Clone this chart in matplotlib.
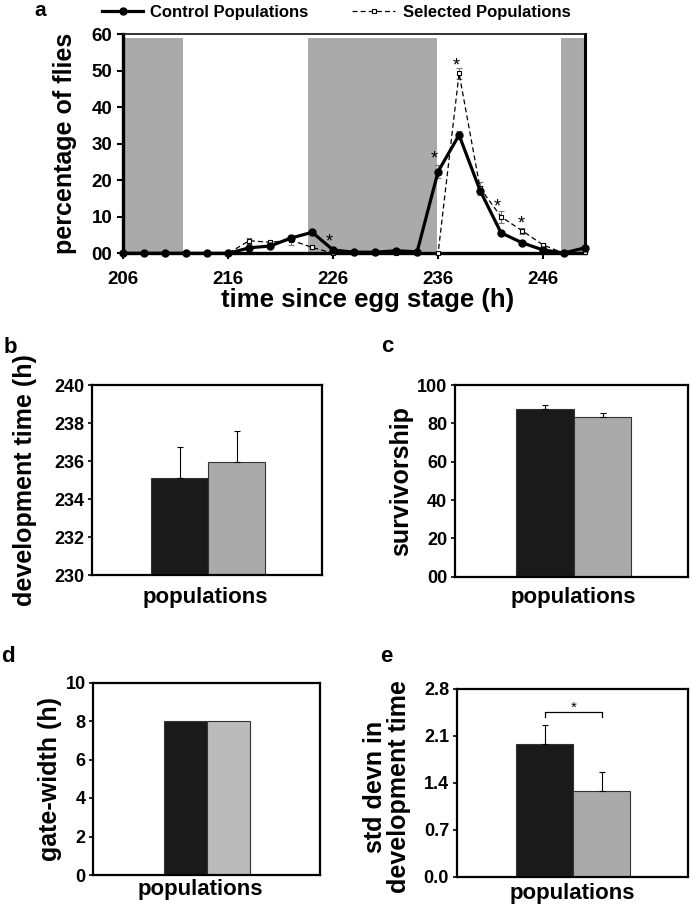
import matplotlib
matplotlib.use("Agg")
import matplotlib.pyplot as plt
import numpy as np

plt.rcParams['font.family'] = ['Liberation Sans', 'DejaVu Sans']
plt.rcParams['font.weight'] = 'bold'

# ---------------- data ----------------
hours = [206, 208, 210, 212, 214, 216, 218, 220, 222, 224, 226, 228,
         230, 232, 234, 236, 238, 240, 242, 244, 246, 248, 250]
control_pct = [0, 0, 0, 0, 0, 0, 1.5, 2.0, 4.2, 5.75, 0.9, 0.3,
               0.3, 0.7, 0.4, 22.4, 32.4, 17.2, 5.6, 2.9, 0.9, 0.1, 1.5]
control_err = [0, 0, 0, 0, 0, 0, 0.4, 0.4, 0.6, 0.4, 0.3, 0.1,
               0.1, 0.2, 0.1, 1.8, 1.0, 1.2, 0.5, 0.4, 0.3, 0.1, 0.4]
selected_pct = [0, 0, 0, 0, 0, 0, 3.45, 3.0, 3.6, 1.6, 0, 0,
                0, 0, 0, 0, 49.3, 17.9, 10.0, 6.2, 2.3, 0, 0.3]
selected_err = [0, 0, 0, 0, 0, 0, 0.8, 0.5, 1.2, 0.3, 0, 0,
                0, 0, 0, 0, 1.5, 1.5, 1.6, 0.8, 0.5, 0, 0]
dark_phases = [(206, 211.7), (223.6, 235.9), (247.7, 250)]
star_x = [225.6, 235.6, 237.7, 241.6, 243.9]
star_y = [4.8, 27.4, 53.0, 14.2, 9.7]

groups = ['Control Populations', 'Selected Populations']
dev_time = [235.12, 235.95]
dev_time_err = [1.63, 1.63]
survivorship = [87.3, 83.2]
survivorship_err = [2.4, 2.4]
gate_width = [8.0, 8.0]
std_devn = [1.976, 1.277]
std_devn_err = [0.28, 0.28]

W, H = 692, 908
fig = plt.figure(figsize=(W / 100, H / 100), dpi=100)


def axes_px(left, top, right, bottom):
    return fig.add_axes([left / W, 1 - bottom / H, (right - left) / W, (bottom - top) / H])


def ftext(x, y, s, **kw):
    fig.text(x / W, 1 - y / H, s, **kw)


# ---------------- panel a ----------------
ax = axes_px(123.3, 34.3, 585, 253.3)
for x0, x1 in dark_phases:
    ax.axvspan(x0, x1, ymin=0, ymax=58.9 / 60, color='#aaaaaa', lw=0, zorder=0)

ax.errorbar(hours, selected_pct, yerr=selected_err, fmt='none', ecolor='#777777',
            elinewidth=0.8, capsize=2.5, capthick=0.8, zorder=2, clip_on=False)
ax.errorbar(hours, control_pct, yerr=control_err, fmt='none', ecolor='#777777',
            elinewidth=0.8, capsize=2.5, capthick=0.8, zorder=2, clip_on=False)
sel_line, = ax.plot(hours, selected_pct, color='black', lw=0.9, ls=(0, (4, 2.5)),
                    marker='s', ms=2.6, mfc='white', mec='black', mew=0.8, zorder=3,
                    clip_on=False, label=groups[1])
ctl_line, = ax.plot(hours, control_pct, color='black', lw=2.3, marker='o', ms=5,
                    zorder=4, clip_on=False, label=groups[0])
for sx, sy in zip(star_x, star_y):
    ax.annotate('*', (sx, sy), xytext=(0, -7.5), textcoords='offset points',
                ha='center', va='baseline', fontsize=13, fontweight='normal')

ax.set_xlim(206, 250)
ax.set_ylim(0, 60)
ax.set_xticks([206, 216, 226, 236, 246])
ax.set_xticklabels(['206', '216', '226', '236', '246'])
ax.set_yticks([0, 10, 20, 30, 40, 50, 60])
ax.set_yticklabels(['00', '10', '20', '30', '40', '50', '60'])
ax.tick_params(axis='both', direction='out', length=4, width=1.5, labelsize=13.5)
ax.tick_params(axis='y', pad=4)
ax.tick_params(axis='x', pad=9)
ax.spines['left'].set_linewidth(2.4)
ax.spines['bottom'].set_linewidth(2.4)
ax.spines['right'].set_linewidth(2.2)
ax.spines['top'].set_linewidth(1.3)
ax.spines['top'].set_color('#222222')

ftext(367.5, 300, 'time since egg stage (h)', ha='center', va='center', fontsize=18.5)
ftext(65, 143.8, 'percentage of flies', ha='center', va='center', rotation=90, fontsize=18)

# legend entries, each placed where it sits in the reference
fig.legend([ctl_line], [groups[0]], loc='center left',
           bbox_to_anchor=(102 / W, 1 - 12 / H), frameon=False, fontsize=12,
           handlelength=2.46, handletextpad=0.42, borderpad=0, borderaxespad=0)
fig.legend([sel_line], [groups[1]], loc='center left',
           bbox_to_anchor=(352 / W, 1 - 12 / H), frameon=False, fontsize=12,
           handlelength=2.6, handletextpad=0.45, borderpad=0, borderaxespad=0)

ftext(40, 16, 'a', ha='center', va='baseline', fontsize=15)


# ---------------- bar panels ----------------
def bar_panel(box, values, errs, ylim, ticks, ticklabels, xlim, ylabel, ylabel_pos,
              pop_pos, letter, letter_pos, gray='#aaaaaa'):
    a = axes_px(*box)
    colors = ['#1a1a1a', gray]
    pos = [-0.5, 0.5]
    a.bar(pos, np.array(values) - ylim[0], bottom=ylim[0], width=1.0,
          color=colors, edgecolor='#333333', linewidth=0.8, zorder=2)
    if errs is not None:
        a.errorbar(pos, values, yerr=[[0, 0], errs], fmt='none', ecolor='black',
                   elinewidth=0.8, capsize=2.3, capthick=0.8, zorder=3)
    a.set_xlim(*xlim)
    a.set_ylim(*ylim)
    a.set_yticks(ticks)
    a.set_yticklabels(ticklabels)
    a.set_xticks([])
    a.tick_params(axis='y', direction='out', length=3, width=1.2, labelsize=13, pad=2.5)
    for sp in a.spines.values():
        sp.set_linewidth(1.6)
    ftext(ylabel_pos[0], ylabel_pos[1], ylabel, ha='center', va='center',
          rotation=90, fontsize=18, linespacing=0.95)
    ftext(pop_pos[0], pop_pos[1], 'populations', ha='center', va='center', fontsize=16)
    ftext(letter_pos[0], letter_pos[1], letter, ha='center', va='baseline', fontsize=16)
    return a


bar_panel((91.7, 385, 321.7, 575), dev_time, dev_time_err, (230, 240),
          [230, 232, 234, 236, 238, 240], ['230', '232', '234', '236', '238', '240'],
          (-2.05, 1.99), 'development time (h)', (25, 480), (205, 597), 'b', (10, 353))

bar_panel((455, 385, 688.3, 576.7), survivorship, survivorship_err, (0, 100),
          [0, 20, 40, 60, 80, 100], ['00', '20', '40', '60', '80', '100'],
          (-2.07, 1.99), 'survivorship', (401, 481), (573, 598), 'c', (387, 352))

bar_panel((93.3, 682.5, 320, 875), gate_width, None, (0, 10),
          [0, 2, 4, 6, 8, 10], ['0', '2', '4', '6', '8', '10'],
          (-2.66, 2.65), 'gate-width (h)', (50, 779), (200, 890), 'd', (8, 662),
          gray='#bbbbbb')

ae = bar_panel((456.7, 688.7, 688.3, 876.7), std_devn, std_devn_err, (0, 2.8),
               [0, 0.7, 1.4, 2.1, 2.8], ['0.0', '0.7', '1.4', '2.1', '2.8'],
               (-2.05, 2.02), 'std devn in\ndevelopment time', (387, 787), (572, 893),
               'e', (386, 662))
ae.plot([-0.5, -0.5, 0.5, 0.5], [2.38, 2.457, 2.457, 2.38], color='black', lw=0.9)
ae.annotate('*', (0, 2.59), xytext=(0, -6.4), textcoords='offset points',
            ha='center', va='baseline', fontsize=11, fontweight='normal')

fig.savefig('out.png', dpi=100)
